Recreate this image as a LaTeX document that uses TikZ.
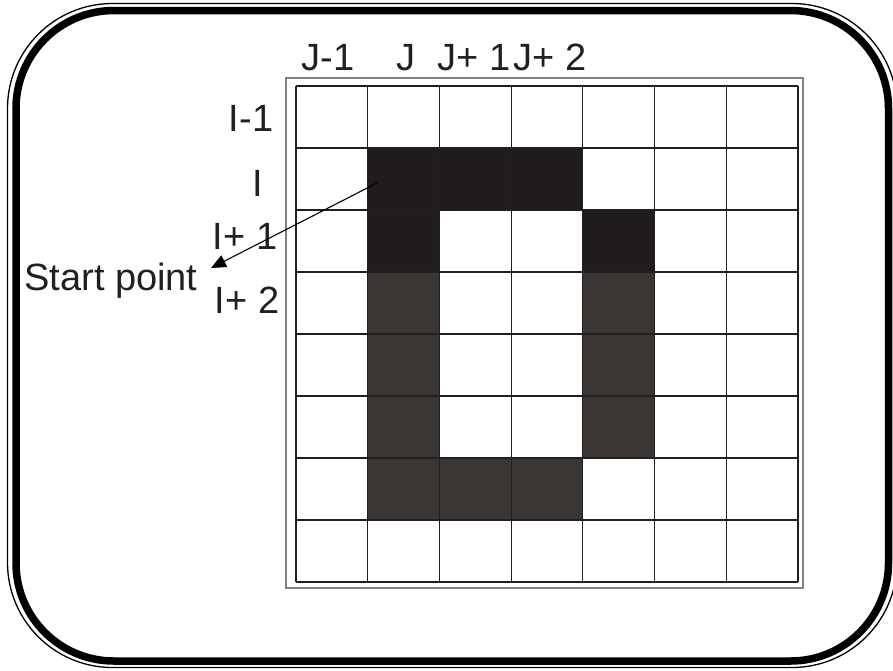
\documentclass[tikz,border=0pt]{standalone}
\usepackage{fontspec}
\setmainfont{Liberation Sans}
\usetikzlibrary{arrows.meta}
\definecolor{cellblack}{HTML}{201C1B}
\definecolor{cellgray}{HTML}{3A3634}
\definecolor{gridline}{HTML}{231F20}
\definecolor{bordergray}{HTML}{808080}
\tikzset{
  lbl/.style={font=\fontsize{38}{42}\selectfont, text=gridline, inner sep=0pt, anchor=base},
  gridstyle/.style={draw=gridline, line width=1.1pt},
  darkcell/.style={fill=cellblack},
  graycell/.style={fill=cellgray},
  pointer/.style={draw=black, line width=1.1pt, -{Triangle[length=15pt,width=13pt]}}
}
\begin{document}
\begin{tikzpicture}[x=1pt,y=-1pt]
\useasboundingbox (0,0) rectangle (893,670);
% frame
\draw[line width=1.3pt, rounded corners=105pt] (7.5,3.5) rectangle (897,667.5);
\draw[line width=7.5pt, rounded corners=98pt] (16,10.5) rectangle (888.5,661);
% grid geometry
\def\gx{296}\def\gy{86}\def\cw{71.714}\def\rh{62}
% filled cells
\foreach \c/\r in {1/1,2/1,3/1,1/2,4/2}
  \fill[darkcell] ({\gx+\c*\cw},{\gy+\r*\rh}) rectangle ++(\cw,\rh);
\foreach \c/\r in {1/3,1/4,1/5,4/3,4/4,4/5,1/6,2/6,3/6}
  \fill[graycell] ({\gx+\c*\cw},{\gy+\r*\rh}) rectangle ++(\cw,\rh);
% grid lines
\foreach \c in {0,...,7}
  \draw[gridstyle] ({\gx+\c*\cw},\gy) -- ({\gx+\c*\cw},{\gy+8*\rh});
\foreach \r in {0,...,8}
  \draw[gridstyle] (\gx,{\gy+\r*\rh}) -- ({\gx+7*\cw},{\gy+\r*\rh});
% outer border
\draw[draw=bordergray, line width=1.6pt] (286,78) rectangle (803,588);
% column labels
\node[lbl] (jm1) at (328,70) {J-1};
\node[lbl] (j)   at (406,70) {J};
\node[lbl] (jp1) at (474,70) {J+ 1};
\node[lbl] (jp2) at (550,70) {J+ 2};
% row labels
\node[lbl] (im1) at (251,131) {I-1};
\node[lbl] (i)   at (258,196) {I};
\node[lbl] (ip1) at (245,249) {I+ 1};
\node[lbl] (ip2) at (247,313) {I+ 2};
% start point
\node[lbl] (sp) at (111,290) {Start point};
\coordinate (src) at (377,183);
\coordinate (tip) at (211,268);
\draw[pointer] (src) -- (tip);
\end{tikzpicture}
\end{document}
